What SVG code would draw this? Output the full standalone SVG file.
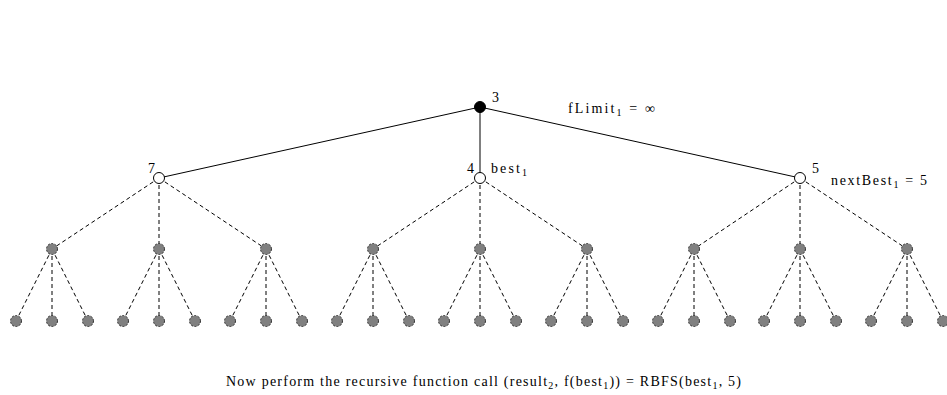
<svg xmlns="http://www.w3.org/2000/svg" width="947" height="395" viewBox="0 0 947 395">
<style>
.solid{stroke:#000;stroke-width:1;fill:none}
.dash{stroke:#000;stroke-width:1;fill:none;stroke-dasharray:4 3}
.open{fill:#fff;stroke:#000;stroke-width:1}
.root{fill:#000;stroke:#000;stroke-width:1}
.gray{fill:#808080;stroke:#333;stroke-width:1;stroke-dasharray:2 1.5}
text{font-family:"Liberation Serif","DejaVu Serif",serif;font-size:14px;fill:#000}
.sub{font-size:10px}
</style>
<rect width="947" height="395" fill="#fff"/>
<g id="connectors">
<line class="solid" x1="480" y1="107" x2="159" y2="178"/>
<line class="solid" x1="480" y1="107" x2="480" y2="178"/>
<line class="solid" x1="480" y1="107" x2="800" y2="178"/>
<line class="dash" x1="159" y1="178" x2="52" y2="249"/>
<line class="dash" x1="159" y1="178" x2="159" y2="249"/>
<line class="dash" x1="159" y1="178" x2="266" y2="249"/>
<line class="dash" x1="480" y1="178" x2="373" y2="249"/>
<line class="dash" x1="480" y1="178" x2="480" y2="249"/>
<line class="dash" x1="480" y1="178" x2="587" y2="249"/>
<line class="dash" x1="800" y1="178" x2="694" y2="249"/>
<line class="dash" x1="800" y1="178" x2="800" y2="249"/>
<line class="dash" x1="800" y1="178" x2="907" y2="249"/>
<line class="dash" x1="52" y1="249" x2="16" y2="321"/><line class="dash" x1="52" y1="249" x2="52" y2="321"/><line class="dash" x1="52" y1="249" x2="88" y2="321"/>
<line class="dash" x1="159" y1="249" x2="123" y2="321"/><line class="dash" x1="159" y1="249" x2="159" y2="321"/><line class="dash" x1="159" y1="249" x2="195" y2="321"/>
<line class="dash" x1="266" y1="249" x2="230" y2="321"/><line class="dash" x1="266" y1="249" x2="266" y2="321"/><line class="dash" x1="266" y1="249" x2="302" y2="321"/>
<line class="dash" x1="373" y1="249" x2="337" y2="321"/><line class="dash" x1="373" y1="249" x2="373" y2="321"/><line class="dash" x1="373" y1="249" x2="409" y2="321"/>
<line class="dash" x1="480" y1="249" x2="444" y2="321"/><line class="dash" x1="480" y1="249" x2="480" y2="321"/><line class="dash" x1="480" y1="249" x2="516" y2="321"/>
<line class="dash" x1="587" y1="249" x2="551" y2="321"/><line class="dash" x1="587" y1="249" x2="587" y2="321"/><line class="dash" x1="587" y1="249" x2="623" y2="321"/>
<line class="dash" x1="694" y1="249" x2="658" y2="321"/><line class="dash" x1="694" y1="249" x2="694" y2="321"/><line class="dash" x1="694" y1="249" x2="730" y2="321"/>
<line class="dash" x1="800" y1="249" x2="764" y2="321"/><line class="dash" x1="800" y1="249" x2="800" y2="321"/><line class="dash" x1="800" y1="249" x2="836" y2="321"/>
<line class="dash" x1="907" y1="249" x2="871" y2="321"/><line class="dash" x1="907" y1="249" x2="907" y2="321"/><line class="dash" x1="907" y1="249" x2="943" y2="321"/>
</g>
<g id="root"><circle class="root" cx="480" cy="107" r="5.5"/><text x="492" y="102">3</text></g>
<g id="n7"><circle class="open" cx="159" cy="178" r="5.5"/><text x="148" y="173">7</text></g>
<g id="n4"><circle class="open" cx="480" cy="178" r="5.5"/><text x="467" y="173">4</text></g>
<g id="n5"><circle class="open" cx="800" cy="178" r="5.5"/><text x="812" y="173">5</text></g>
<g id="l2">
<circle class="gray" cx="52" cy="249" r="5.5"/><circle class="gray" cx="159" cy="249" r="5.5"/><circle class="gray" cx="266" cy="249" r="5.5"/>
<circle class="gray" cx="373" cy="249" r="5.5"/><circle class="gray" cx="480" cy="249" r="5.5"/><circle class="gray" cx="587" cy="249" r="5.5"/>
<circle class="gray" cx="694" cy="249" r="5.5"/><circle class="gray" cx="800" cy="249" r="5.5"/><circle class="gray" cx="907" cy="249" r="5.5"/>
</g>
<g id="l3">
<circle class="gray" cx="16" cy="321" r="5.5"/><circle class="gray" cx="52" cy="321" r="5.5"/><circle class="gray" cx="88" cy="321" r="5.5"/>
<circle class="gray" cx="123" cy="321" r="5.5"/><circle class="gray" cx="159" cy="321" r="5.5"/><circle class="gray" cx="195" cy="321" r="5.5"/>
<circle class="gray" cx="230" cy="321" r="5.5"/><circle class="gray" cx="266" cy="321" r="5.5"/><circle class="gray" cx="302" cy="321" r="5.5"/>
<circle class="gray" cx="337" cy="321" r="5.5"/><circle class="gray" cx="373" cy="321" r="5.5"/><circle class="gray" cx="409" cy="321" r="5.5"/>
<circle class="gray" cx="444" cy="321" r="5.5"/><circle class="gray" cx="480" cy="321" r="5.5"/><circle class="gray" cx="516" cy="321" r="5.5"/>
<circle class="gray" cx="551" cy="321" r="5.5"/><circle class="gray" cx="587" cy="321" r="5.5"/><circle class="gray" cx="623" cy="321" r="5.5"/>
<circle class="gray" cx="658" cy="321" r="5.5"/><circle class="gray" cx="694" cy="321" r="5.5"/><circle class="gray" cx="730" cy="321" r="5.5"/>
<circle class="gray" cx="764" cy="321" r="5.5"/><circle class="gray" cx="800" cy="321" r="5.5"/><circle class="gray" cx="836" cy="321" r="5.5"/>
<circle class="gray" cx="871" cy="321" r="5.5"/><circle class="gray" cx="907" cy="321" r="5.5"/><circle class="gray" cx="943" cy="321" r="5.5"/>
</g>
<g id="labels">
<text x="568" y="113" textLength="87" lengthAdjust="spacing">fLimit<tspan class="sub" dy="3">1</tspan><tspan dy="-3"> = ∞</tspan></text>
<text x="491" y="173" textLength="36" lengthAdjust="spacing">best<tspan class="sub" dy="3">1</tspan></text>
<text x="831" y="185" textLength="96" lengthAdjust="spacing">nextBest<tspan class="sub" dy="3">1</tspan><tspan dy="-3"> = 5</tspan></text>
<text x="226" y="386" textLength="515" lengthAdjust="spacing">Now perform the recursive function call (result<tspan class="sub" dy="3">2</tspan><tspan dy="-3">, f(best</tspan><tspan class="sub" dy="3">1</tspan><tspan dy="-3">)) = RBFS(best</tspan><tspan class="sub" dy="3">1</tspan><tspan dy="-3">, 5)</tspan></text>
</g>
</svg>
